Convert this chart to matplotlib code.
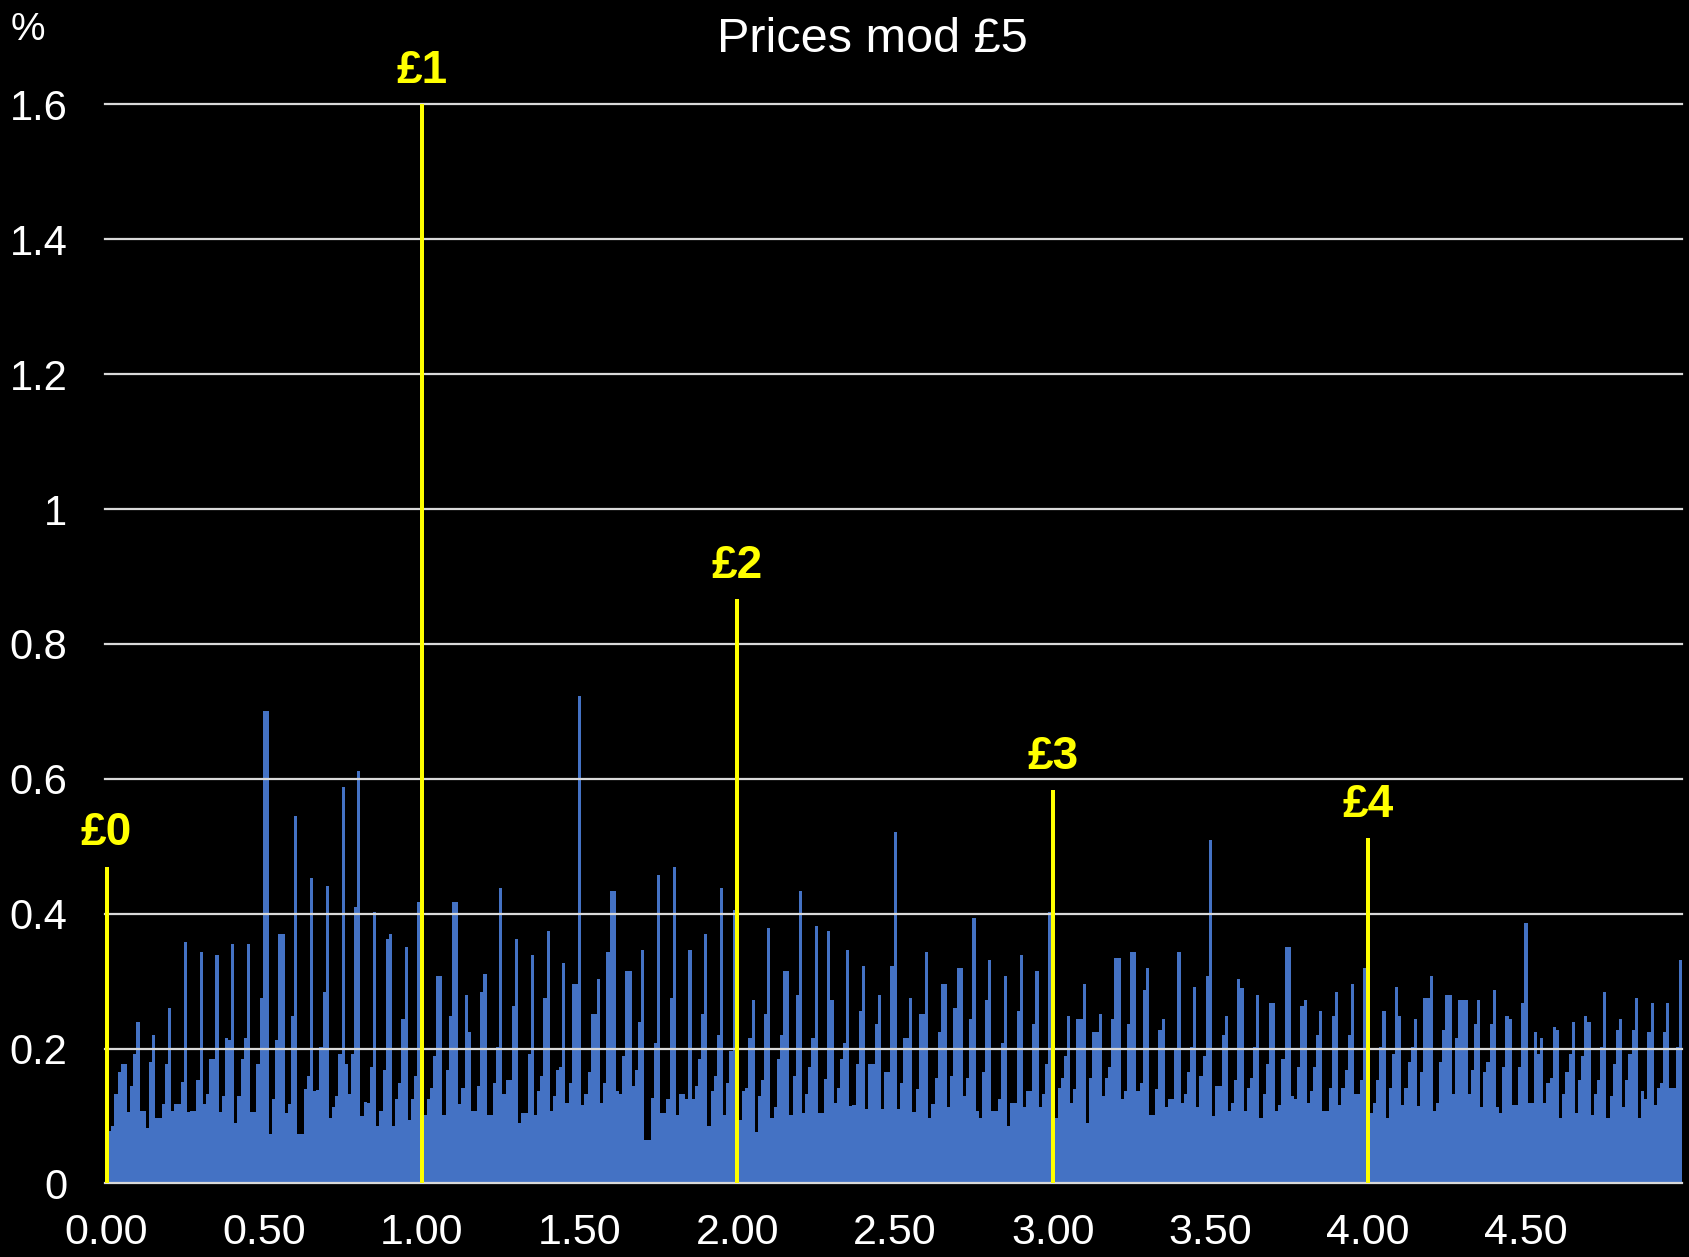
import numpy as np
import matplotlib.pyplot as plt

plt.rcParams['font.family'] = ['Liberation Sans', 'DejaVu Sans']

# Données : % des prix pour chaque centime (x.01 .. x.99), une liste par livre
pence_0 = [0.078, 0.085, 0.133, 0.165, 0.177, 0.177, 0.106, 0.145, 0.192,
           0.24, 0.108, 0.108, 0.082, 0.18, 0.22, 0.097, 0.097, 0.118, 0.177,
           0.26, 0.108, 0.118, 0.118, 0.15, 0.358, 0.106, 0.108, 0.108, 0.153,
           0.343, 0.118, 0.133, 0.184, 0.184, 0.339, 0.106, 0.13, 0.215, 0.213,
           0.355, 0.089, 0.13, 0.184, 0.215, 0.355, 0.106, 0.106, 0.177, 0.275,
           0.70, 0.70, 0.073, 0.125, 0.212, 0.37, 0.37, 0.105, 0.118, 0.248,
           0.545, 0.073, 0.073, 0.14, 0.16, 0.453, 0.137, 0.139, 0.203, 0.284,
           0.441, 0.097, 0.113, 0.13, 0.192, 0.588, 0.177, 0.132, 0.192, 0.41,
           0.612, 0.1, 0.121, 0.12, 0.172, 0.403, 0.085, 0.108, 0.168, 0.362,
           0.37, 0.085, 0.125, 0.149, 0.244, 0.35, 0.094, 0.125, 0.16, 0.417]

pence_1 = [0.101, 0.125, 0.141, 0.189, 0.307, 0.307, 0.101, 0.168, 0.248,
           0.417, 0.417, 0.118, 0.141, 0.28, 0.224, 0.108, 0.108, 0.144, 0.284,
           0.31, 0.101, 0.101, 0.149, 0.203, 0.438, 0.132, 0.153, 0.153, 0.263,
           0.362, 0.089, 0.105, 0.105, 0.192, 0.339, 0.101, 0.137, 0.16, 0.275,
           0.374, 0.108, 0.129, 0.168, 0.172, 0.327, 0.12, 0.149, 0.296, 0.296,
           0.723, 0.117, 0.132, 0.165, 0.251, 0.251, 0.303, 0.12, 0.149, 0.343,
           0.434, 0.434, 0.137, 0.132, 0.189, 0.315, 0.315, 0.144, 0.168, 0.239,
           0.346, 0.065, 0.065, 0.127, 0.208, 0.457, 0.105, 0.105, 0.125, 0.275,
           0.469, 0.101, 0.132, 0.132, 0.125, 0.346, 0.125, 0.144, 0.184, 0.251,
           0.37, 0.085, 0.137, 0.16, 0.22, 0.438, 0.101, 0.149, 0.196, 0.405]

pence_2 = [0.094, 0.137, 0.141, 0.215, 0.272, 0.077, 0.129, 0.153, 0.251,
           0.379, 0.097, 0.113, 0.184, 0.22, 0.315, 0.315, 0.101, 0.16, 0.279,
           0.434, 0.105, 0.132, 0.172, 0.215, 0.382, 0.105, 0.105, 0.155, 0.374,
           0.272, 0.12, 0.141, 0.184, 0.208, 0.346, 0.115, 0.117, 0.177, 0.255,
           0.322, 0.11, 0.177, 0.177, 0.236, 0.279, 0.11, 0.165, 0.165, 0.322,
           0.521, 0.11, 0.149, 0.215, 0.215, 0.275, 0.106, 0.14, 0.251, 0.251,
           0.343, 0.097, 0.118, 0.156, 0.224, 0.296, 0.296, 0.113, 0.16, 0.26,
           0.319, 0.319, 0.13, 0.156, 0.244, 0.394, 0.108, 0.097, 0.165, 0.272,
           0.331, 0.108, 0.108, 0.125, 0.208, 0.307, 0.085, 0.12, 0.12, 0.255,
           0.339, 0.113, 0.137, 0.137, 0.236, 0.315, 0.113, 0.132, 0.177, 0.402]

pence_3 = [0.097, 0.141, 0.156, 0.189, 0.248, 0.12, 0.14, 0.244, 0.244,
           0.296, 0.089, 0.156, 0.224, 0.224, 0.251, 0.129, 0.156, 0.172, 0.244,
           0.334, 0.334, 0.125, 0.137, 0.236, 0.343, 0.343, 0.137, 0.149, 0.287,
           0.319, 0.101, 0.101, 0.14, 0.227, 0.244, 0.113, 0.125, 0.125, 0.2,
           0.343, 0.12, 0.132, 0.165, 0.203, 0.291, 0.113, 0.16, 0.189, 0.307,
           0.509, 0.1, 0.144, 0.144, 0.22, 0.248, 0.108, 0.12, 0.153, 0.303,
           0.29, 0.108, 0.141, 0.156, 0.203, 0.279, 0.097, 0.132, 0.177, 0.267,
           0.267, 0.108, 0.117, 0.184, 0.35, 0.35, 0.129, 0.125, 0.172, 0.263,
           0.272, 0.12, 0.137, 0.172, 0.22, 0.255, 0.108, 0.108, 0.141, 0.248,
           0.284, 0.117, 0.141, 0.168, 0.22, 0.296, 0.132, 0.132, 0.153, 0.319]

pence_4 = [0.105, 0.12, 0.153, 0.203, 0.255, 0.097, 0.141, 0.192, 0.291,
           0.248, 0.117, 0.141, 0.18, 0.203, 0.244, 0.115, 0.165, 0.275, 0.275,
           0.307, 0.108, 0.12, 0.18, 0.227, 0.279, 0.279, 0.132, 0.215, 0.272,
           0.272, 0.272, 0.132, 0.168, 0.236, 0.272, 0.113, 0.165, 0.18, 0.236,
           0.287, 0.113, 0.105, 0.172, 0.248, 0.244, 0.117, 0.117, 0.172, 0.267,
           0.386, 0.12, 0.12, 0.224, 0.192, 0.215, 0.12, 0.149, 0.156, 0.232,
           0.227, 0.097, 0.132, 0.165, 0.192, 0.239, 0.105, 0.153, 0.189, 0.248,
           0.239, 0.101, 0.132, 0.153, 0.203, 0.284, 0.097, 0.129, 0.177, 0.227,
           0.244, 0.113, 0.153, 0.192, 0.227, 0.275, 0.097, 0.137, 0.125, 0.224,
           0.267, 0.117, 0.141, 0.149, 0.224, 0.267, 0.141, 0.141, 0.203, 0.331]

# prix ronds (£0, £1, ... £4)
livres = [0.47, 1.6, 0.866, 0.584, 0.512]
noms_livres = ["£0", "£1", "£2", "£3", "£4"]

tick_labels = ["0.00", "0.50", "1.00", "1.50", "2.00",
               "2.50", "3.00", "3.50", "4.00", "4.50"]

BLEU = '#4472C4'
JAUNE = '#FFFF00'

# Assemblage des 500 catégories
valeurs = np.zeros(500)
for k, serie in enumerate([pence_0, pence_1, pence_2, pence_3, pence_4]):
    valeurs[k * 100 + 1:(k + 1) * 100] = serie
x = np.arange(500)
masque = x % 100 != 0
pos_livres = x[~masque]

fig = plt.figure(figsize=(16.9, 12.57), dpi=100, facecolor='black')
ax = fig.add_axes([0.0621, 0.0585, 0.9332, 0.8584])
ax.set_facecolor('black')

ax.bar(x[masque], valeurs[masque], width=1.0, color=BLEU, linewidth=0, zorder=2)

# Grille horizontale par-dessus les barres
for y in np.arange(0, 1.61, 0.2):
    ax.axhline(y, color='#d9d9d9', lw=1.6, zorder=3, clip_on=False)

ax.bar(pos_livres, livres, width=1.3, color=JAUNE, linewidth=0, zorder=4)
for p, v, nom in zip(pos_livres, livres, noms_livres):
    ax.annotate(nom, (p, v), xytext=(0, 8), textcoords='offset points',
                ha='center', va='bottom', color=JAUNE, fontsize=33,
                fontweight='bold', annotation_clip=False)

ax.set_xlim(-0.5, 499.5)
ax.set_ylim(0, 1.6)
ax.set_yticks(np.arange(0, 1.61, 0.2))
ax.set_yticklabels(["0", "0.2", "0.4", "0.6", "0.8", "1", "1.2", "1.4", "1.6"])
ax.set_xticks(np.arange(0, 500, 50))
ax.set_xticklabels(tick_labels)
ax.tick_params(axis='y', length=0, pad=27, labelsize=30, labelcolor='white')
ax.tick_params(axis='x', length=0, pad=21, labelsize=31, labelcolor='white')
for s in ax.spines.values():
    s.set_visible(False)

fig.text(0.516, 1 - 39 / 1257, "Prices mod £5", ha='center', va='center',
         color='white', fontsize=35)
fig.text(28 / 1690, 1 - 30 / 1257, "%", ha='center', va='center',
         color='white', fontsize=28)

fig.savefig('out.png', dpi=100, facecolor='black')
